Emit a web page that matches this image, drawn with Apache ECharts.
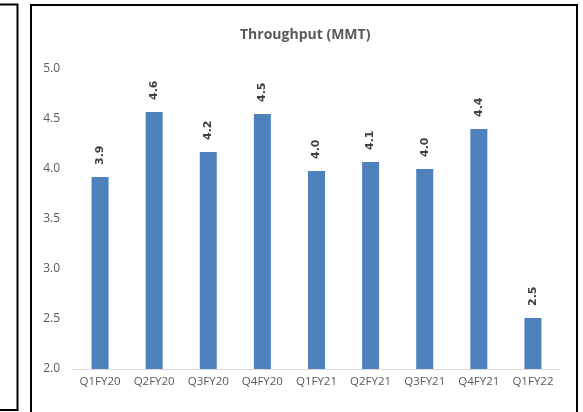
<!DOCTYPE html>
<html>
<head>
<meta charset="utf-8">
<script src="https://cdn.jsdelivr.net/npm/echarts@6/dist/echarts.min.js"></script>
<style>
  html, body { margin: 0; padding: 0; background: #ffffff; }
  #chart { width: 583px; height: 412px; }
</style>
</head>
<body>
<div id="chart"></div>
<script>
// Quarterly throughput, million metric tonnes
const quarters = ['Q1FY20', 'Q2FY20', 'Q3FY20', 'Q4FY20', 'Q1FY21', 'Q2FY21', 'Q3FY21', 'Q4FY21', 'Q1FY22'];
const throughput = [3.92, 4.57, 4.17, 4.55, 3.98, 4.07, 4.00, 4.40, 2.51];
const yTicks = { min: 2.0, max: 5.0, step: 0.5 };

const chart = echarts.init(document.getElementById('chart'), null, { renderer: 'canvas' });

chart.setOption({
  backgroundColor: '#ffffff',
  animation: false,
  title: {
    text: 'Throughput (MMT)',
    left: 235,
    top: 23,
    textStyle: {
      fontFamily: 'Open Sans',
      fontSize: 14,
      fontWeight: 'bold',
      color: '#595959'
    }
  },
  grid: { left: 73, right: 23, top: 69, bottom: 43 },
  xAxis: {
    type: 'category',
    data: quarters,
    axisLine: { show: true, lineStyle: { color: '#d9d9d9', width: 1 } },
    axisTick: { show: false },
    axisLabel: {
      margin: 7,
      fontFamily: 'Open Sans',
      fontSize: 11.5,
      color: '#595959'
    }
  },
  yAxis: {
    type: 'value',
    min: yTicks.min,
    max: yTicks.max,
    interval: yTicks.step,
    splitLine: { show: false },
    axisLine: { show: false },
    axisTick: { show: false },
    axisLabel: {
      margin: 13,
      fontFamily: 'Open Sans',
      fontSize: 12,
      color: '#595959',
      formatter: v => v.toFixed(1)
    }
  },
  series: [{
    type: 'bar',
    data: throughput,
    barWidth: 17,
    itemStyle: { color: '#4f81bd' },
    label: {
      show: true,
      position: 'top',
      distance: 12,
      rotate: 90,
      align: 'left',
      verticalAlign: 'middle',
      fontFamily: 'DejaVu Sans',
      fontWeight: 'bold',
      fontSize: 11,
      color: '#404040',
      formatter: p => p.value.toFixed(1)
    }
  }],
  graphic: [
    {
      type: 'rect',
      shape: { x: 31, y: 5, width: 546, height: 415 },
      style: { fill: 'none', stroke: '#000000', lineWidth: 2 },
      silent: true
    },
    {
      type: 'rect',
      shape: { x: -20, y: 4.5, width: 37.5, height: 405.5 },
      style: { fill: 'none', stroke: '#000000', lineWidth: 2 },
      silent: true
    }
  ]
});
</script>
</body>
</html>
